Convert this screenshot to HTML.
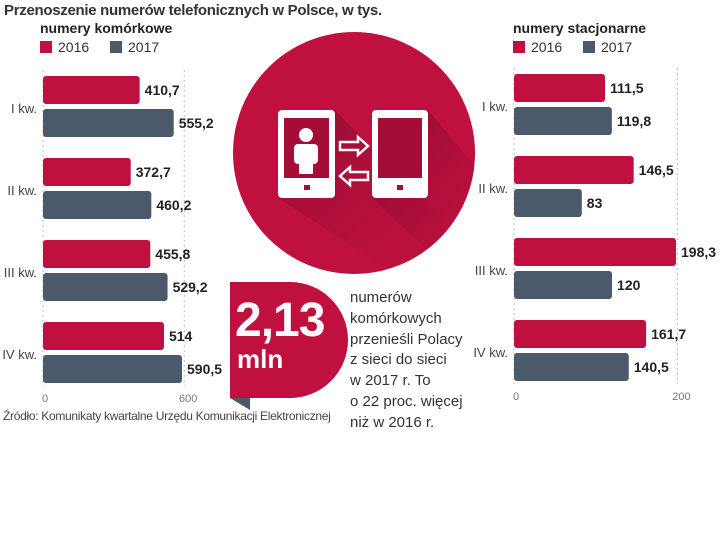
<!DOCTYPE html>
<html><head><meta charset="utf-8"><style>
body{margin:0;width:720px;height:545px;background:#fff;font-family:"Liberation Sans",sans-serif;overflow:hidden;position:relative}
.t{position:absolute;white-space:nowrap}
</style></head><body>
<div class="t" style="left:4px;top:2px;font-size:15px;font-weight:bold;color:#333;letter-spacing:-0.3px">Przenoszenie numerów telefonicznych w Polsce, w tys.</div>
<svg id="svg" width="720" height="545" style="position:absolute;left:0;top:0">
<defs><linearGradient id="sh" x1="0" y1="0" x2="1" y2="1"><stop offset="0" stop-color="#7a0c2c" stop-opacity="0.7"/><stop offset="1" stop-color="#c0103f" stop-opacity="0"/></linearGradient>
<clipPath id="cc"><circle cx="354" cy="153" r="121"/></clipPath></defs>
<g>
<circle cx="354" cy="153" r="121" fill="#c0103f"/>
<g clip-path="url(#cc)"><polygon points="278,198 335,198 335,110 480,260 420,290" fill="url(#sh)"/><polygon points="372,198 428,198 428,110 520,220 470,290" fill="url(#sh)"/></g>
<rect x="278" y="110" width="57" height="88" rx="4" fill="#fff"/><rect x="284" y="118" width="45" height="60" fill="#a40d37"/><rect x="304" y="185" width="6" height="5" fill="#a40d37"/>
<circle cx="306" cy="135" r="7" fill="#fff"/><rect x="294" y="144" width="24" height="20" rx="4" fill="#fff"/><rect x="299" y="160" width="14" height="14" fill="#fff"/>
<rect x="372" y="110" width="56" height="88" rx="4" fill="#fff"/><rect x="378" y="118" width="44" height="60" fill="#a40d37"/><rect x="397" y="185" width="6" height="5" fill="#a40d37"/>
<path d="M340 142 h18 v-5 l10 9 l-10 9 v-5 h-18 z" fill="none" stroke="#fff" stroke-width="2.5"/>
<path d="M368 172 h-18 v-5 l-10 9 l10 9 v-5 h18 z" fill="none" stroke="#fff" stroke-width="2.5"/>
</g>
<g>
<path d="M230 282 H290 A58 58 0 0 1 290 398 H230 Z" fill="#c0103f"/>
<polygon points="230,398 250,398 250,410" fill="#4a5a6b"/>
</g>
</svg>
<div class="t" style="left:235px;top:293px;font-size:48px;font-weight:bold;color:#fff;letter-spacing:-1px">2,13</div>
<div class="t" style="left:237px;top:344px;font-size:26px;font-weight:bold;color:#fff">mln</div>
<div class="t" style="left:350px;top:288px;font-size:15px;line-height:20.8px;color:#333">numerów<br>komórkowych<br>przenieśli Polacy<br>z sieci do sieci<br>w 2017 r. To<br>o 22 proc. więcej<br>niż w 2016 r.</div>
<div class="t" style="left:3px;top:409px;font-size:12px;color:#444;letter-spacing:-0.3px">Źródło: Komunikaty kwartalne Urzędu Komunikacji Elektronicznej</div>
<script>
const quarters=["I kw.","II kw.","III kw.","IV kw."];
const mobile2016=[410.7,372.7,455.8,514];
const mobile2017=[555.2,460.2,529.2,590.5];
const mobileLabels2016=["410,7","372,7","455,8","514"];
const mobileLabels2017=["555,2","460,2","529,2","590,5"];
const fixed2016=[111.5,146.5,198.3,161.7];
const fixed2017=[119.8,83,120,140.5];
const fixedLabels2016=["111,5","146,5","198,3","161,7"];
const fixedLabels2017=["119,8","83","120","140,5"];
const mobileTicks=[0,600];
const fixedTicks=[0,200];
const RED="#c0103f",GREY="#4a5a6b";
const svg=document.getElementById('svg');const NS="http://www.w3.org/2000/svg";
function mk(tag,attrs){const e=document.createElementNS(NS,tag);for(const k in attrs)e.setAttribute(k,attrs[k]);svg.appendChild(e);return e;}
function txt(x,y,s,size,color,anchor,weight){const e=mk('text',{x:x,y:y,'font-size':size,fill:color,'text-anchor':anchor||'start','font-weight':weight||'normal','font-family':'Liberation Sans, sans-serif'});e.textContent=s;return e;}
function chart(cfg){
 const xs=v=>cfg.x0+v*cfg.k;
 const t=txt(cfg.titleX,cfg.top+9,cfg.title,14,'#222','start','bold');
 
 
 [[RED,'2016'],[GREY,'2017']].forEach((l,i)=>{
  const r=mk('rect',{x:cfg.titleX+i*70,y:cfg.top+17,width:12,height:12,fill:l[0]});
  
  
  const lt=txt(cfg.titleX+i*70+18,cfg.top+28,l[1],14,'#333');
  
  
 });
 cfg.ticks.forEach(tv=>{
  const g=mk('line',{x1:xs(tv),x2:xs(tv),y1:cfg.barTop-6,y2:cfg.barTop+310,stroke:'#bbb','stroke-dasharray':'2,3'});
  
  
  const tl=txt(xs(tv)+(tv?4:2),cfg.barTop+326,String(tv),11,'#777','middle');
  
  
 });
 quarters.forEach((q,i)=>{
  const y=cfg.barTop+i*82;
  const ql=txt(cfg.x0-6,y+37,q,13,'#444','end');
  
  
  [[cfg.a[i],cfg.la[i],RED,0],[cfg.b[i],cfg.lb[i],GREY,33]].forEach((d,j)=>{
   const b=mk('rect',{x:cfg.x0,y:y+d[3],width:d[0]*cfg.k,height:28,rx:3,fill:d[2]});
   
   
   const v=txt(xs(d[0])+5,y+d[3]+19,d[1],14,'#222','start','bold');
   
   
  });
 });
}
chart({id:'mobile',title:'numery komórkowe',titleX:40,top:24,x0:43,k:139/590.5,barTop:76,a:mobile2016,b:mobile2017,la:mobileLabels2016,lb:mobileLabels2017,ticks:mobileTicks});
chart({id:'fixed',title:'numery stacjonarne',titleX:513,top:24,x0:514,k:162/198.3,barTop:74,a:fixed2016,b:fixed2017,la:fixedLabels2016,lb:fixedLabels2017,ticks:fixedTicks});
</script>
</body></html>
